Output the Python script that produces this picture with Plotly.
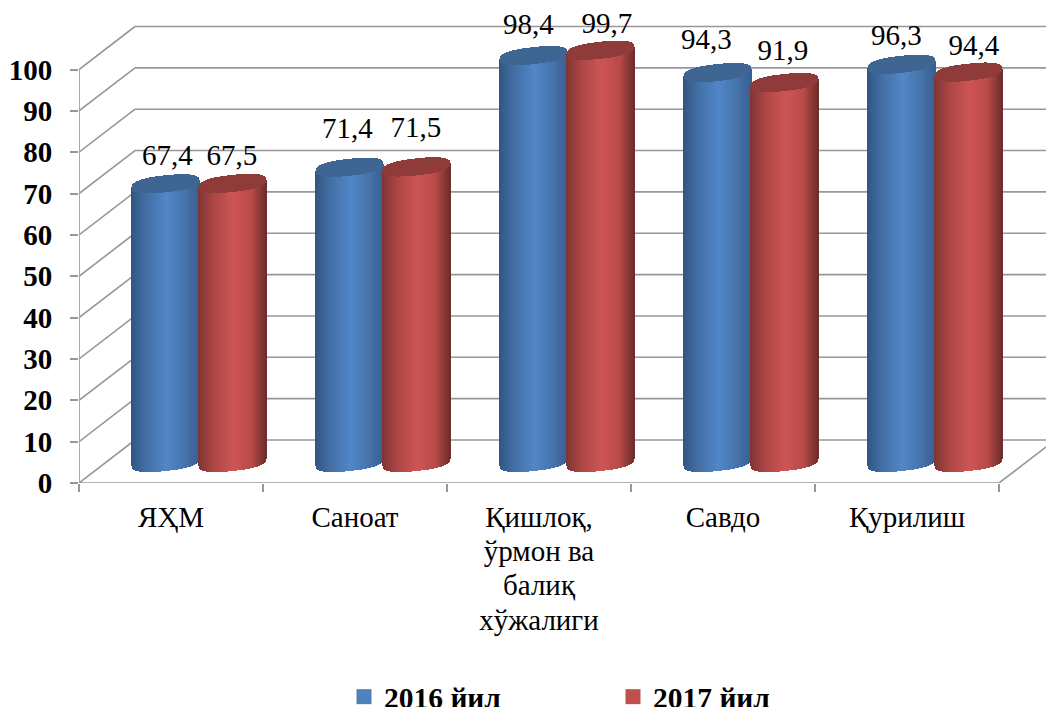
import numpy as np
import plotly.graph_objects as go

categories = ["ЯҲМ", "Саноат", "Қишлоқ,<br>ўрмон ва<br>балиқ<br>хўжалиги", "Савдо", "Қурилиш"]
values_2016 = [67.4, 71.4, 98.4, 94.3, 96.3]
values_2017 = [67.5, 71.5, 99.7, 91.9, 94.4]
labels_2016 = ["67,4", "71,4", "98,4", "94,3", "96,3"]
labels_2017 = ["67,5", "71,5", "99,7", "91,9", "94,4"]
y_ticks = list(range(0, 101, 10))

# pixel geometry of the page
W, H = 1046, 707
X0, Y0 = 79, 483
PX_X, PX_Y = 184.0, 4.135
DEPTH_X, DEPTH_Y = 56 / PX_X, 43 / PX_Y
BASE = 20.5 / PX_Y
ELL_B = 8.5 / PX_Y
SHEAR = 3.6 / PX_Y
HALF_W = 33.4 / PX_X
CENTER_2016 = 0.469
CENTER_2017 = 0.836
FONT = "Liberation Serif"
GRID = "#979797"


def ramp(u, stops):
    us = [s[0] for s in stops]
    return "rgb(%d,%d,%d)" % tuple(np.interp(u, us, [s[1][c] for s in stops]) for c in range(3))


BLUE_STOPS = [(-1, (50, 86, 130)), (-0.6, (66, 110, 163)), (0.05, (82, 135, 201)), (0.6, (70, 116, 170)), (1, (56, 96, 146))]
RED_STOPS = [(-1, (128, 54, 52)), (-0.5, (176, 73, 71)), (0.05, (205, 86, 84)), (0.6, (184, 74, 72)), (1, (112, 46, 44))]


def cylinders(values, center, stops, cap_color, name):
    us = np.linspace(-1, 1, 68)
    sx, sb, sh, sc, cb, ch = [], [], [], [], [], []
    for i, v in enumerate(values):
        for u in us:
            r = (1 - abs(u) ** 2.5) ** (1 / 2.5)
            sx.append(i + center + u * HALF_W)
            low = BASE + SHEAR * u - ELL_B * r
            top = v + BASE + SHEAR * u
            sb.append(low)
            sh.append(top - low)
            sc.append(ramp(u, stops))
            cb.append(top - ELL_B * r)
            ch.append(2 * ELL_B * r)
    w = 2 * HALF_W / 67 * 1.1
    common = dict(x=sx, width=w, showlegend=False, hoverinfo="skip")
    return [
        go.Bar(base=sb, y=sh, marker=dict(color=sc, line=dict(width=0)), name=name, **common),
        go.Bar(base=cb, y=ch, marker=dict(color=cap_color, line=dict(width=0)), name=name, **common),
    ]


fig = go.Figure()
for t in cylinders(values_2016, CENTER_2016, BLUE_STOPS, "#3f6592", "2016 йил"):
    fig.add_trace(t)
for t in cylinders(values_2017, CENTER_2017, RED_STOPS, "#8f3b3a", "2017 йил"):
    fig.add_trace(t)

# data labels, with the small per-label nudges seen in the picture (px)
nudge_2016 = [(2, 26), (-2, 37), (-5, 29), (-11, 31), (-5, 27)]
nudge_2017 = [(-1, 26), (-1, 37), (6, 24), (-2, 30), (5, 24)]
for vals, labs, center, nudge in [(values_2016, labels_2016, CENTER_2016, nudge_2016),
                                  (values_2017, labels_2017, CENTER_2017, nudge_2017)]:
    fig.add_trace(go.Scatter(
        x=[i + center + n[0] / PX_X for i, n in enumerate(nudge)],
        y=[v + BASE + n[1] / PX_Y for v, n in zip(vals, nudge)],
        text=labs, mode="text", textposition="middle center",
        textfont=dict(family=FONT, size=29, color="black"),
        showlegend=False, hoverinfo="skip", cliponaxis=False))

# legend entries
for name, col in [("2016 йил", "#4f81bd"), ("2017 йил", "#c0504d")]:
    fig.add_trace(go.Scatter(x=[None], y=[None], mode="markers", name=name,
                             marker=dict(symbol="square", size=15, color=col)))

# walls and floor
x_end = (W - X0) / PX_X
shapes = []
line = dict(color=GRID, width=1.6)
for v in y_ticks:
    shapes.append(dict(type="line", layer="below", x0=0, y0=v, x1=DEPTH_X, y1=v + DEPTH_Y, line=line))
    shapes.append(dict(type="line", layer="below", x0=DEPTH_X, y0=v + DEPTH_Y, x1=x_end, y1=v + DEPTH_Y, line=line))
shapes.append(dict(type="line", layer="below", x0=0, y0=0, x1=0, y1=100, line=line))
shapes.append(dict(type="line", layer="below", x0=0, y0=0, x1=len(categories), y1=0, line=line))
shapes.append(dict(type="line", layer="below", x0=len(categories), y0=0,
                   x1=len(categories) + DEPTH_X, y1=DEPTH_Y, line=line))

# glyphs are 29 px but the lines are only 34 px apart
tick_text = ["<br>".join('<span style="font-size:29px">%s</span>' % p for p in c.split("<br>")) for c in categories]

fig.update_layout(
    width=W, height=H,
    margin=dict(l=X0, r=0, t=0, b=H - Y0, autoexpand=False),
    paper_bgcolor="white", plot_bgcolor="white",
    barmode="overlay", bargap=0,
    shapes=shapes,
    font=dict(family=FONT, color="black"),
    xaxis=dict(
        range=[0, x_end], showgrid=False, zeroline=False, showline=False,
        tickmode="array", tickvals=[i + 0.5 for i in range(len(categories))], ticktext=tick_text,
        ticks="outside", ticklen=11, tickcolor="rgba(0,0,0,0)", tickangle=0,
        tickfont=dict(family=FONT, size=26.4, color="black"),
        minor=dict(tickmode="array", tickvals=list(range(len(categories) + 1)),
                   ticks="outside", ticklen=8, tickcolor=GRID, tickwidth=1.6),
    ),
    yaxis=dict(
        range=[0, Y0 / PX_Y], showgrid=False, zeroline=False, showline=False,
        tickmode="array", tickvals=y_ticks, ticks="outside", ticklen=8, tickcolor=GRID, tickwidth=1.6,
        tickfont=dict(family=FONT, size=29, color="black", weight="bold"),
        ticklabelstandoff=12,
    ),
    legend=dict(orientation="h", xref="paper", yref="paper",
                x=(344 - X0) / (W - X0), y=-(671 - Y0) / Y0, xanchor="left", yanchor="top",
                entrywidth=264 - 40, entrywidthmode="pixels", itemsizing="trace",
                font=dict(family=FONT, size=29.5, color="black", weight="bold"),
                bgcolor="rgba(0,0,0,0)"),
)

fig.write_html("out.html", config=dict(displayModeBar=False),
               post_script="document.body.style.margin='0';document.documentElement.style.overflow='hidden';")
